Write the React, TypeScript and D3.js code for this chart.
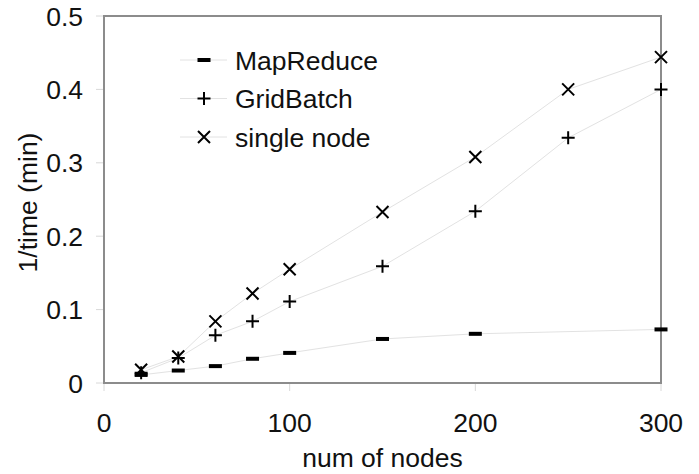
import React, { useEffect, useRef } from 'react';
import * as d3 from 'd3';

// node counts per series
const mapReduceX = [20, 40, 60, 80, 100, 150, 200, 300];
const mapReduceY = [0.011, 0.017, 0.023, 0.033, 0.041, 0.06, 0.067, 0.073];

const gridBatchX = [20, 40, 60, 80, 100, 150, 200, 250, 300];
const gridBatchY = [0.014, 0.034, 0.065, 0.084, 0.111, 0.159, 0.234, 0.334, 0.4];

const singleNodeX = [20, 40, 60, 80, 100, 150, 200, 250, 300];
const singleNodeY = [0.018, 0.036, 0.084, 0.122, 0.155, 0.233, 0.308, 0.4, 0.444];

const xTicks = [0, 100, 200, 300];
const yTicks = [0, 0.1, 0.2, 0.3, 0.4, 0.5];

const seriesNames = ['MapReduce', 'GridBatch', 'single node'];
const seriesMarkers = ['dash', 'plus', 'cross'];

export default function App() {
  const svgRef = useRef<SVGSVGElement>(null);

  useEffect(() => {
    const margin = { top: 16, right: 38, bottom: 91, left: 104 };
    const W = 699, H = 474;
    const width = W - margin.left - margin.right;
    const height = H - margin.top - margin.bottom;
    const font = 'Liberation Sans, Arial, sans-serif';
    const fs = '26.5px';

    const root = d3.select(svgRef.current);
    root.selectAll('*').remove();
    root.attr('width', W).attr('height', H);

    const svg = root.append('g').attr('transform', `translate(${margin.left},${margin.top})`);

    const x = d3.scaleLinear().domain([0, 300]).range([0, width]);
    const y = d3.scaleLinear().domain([0, 0.5]).range([height, 0]);

    // tick marks
    svg.selectAll('.ytick').data(yTicks).enter().append('line')
      .attr('x1', -8).attr('x2', 0)
      .attr('y1', d => y(d)).attr('y2', d => y(d))
      .attr('stroke', '#d8d8d8').attr('stroke-width', 1);
    svg.selectAll('.xtick').data(xTicks).enter().append('line')
      .attr('x1', d => x(d)).attr('x2', d => x(d))
      .attr('y1', height).attr('y2', height + 8)
      .attr('stroke', '#d8d8d8').attr('stroke-width', 1);

    // plot border
    svg.append('rect')
      .attr('x', 0).attr('y', 0).attr('width', width).attr('height', height)
      .attr('fill', 'none').attr('stroke', '#8c8c8c').attr('stroke-width', 2);

    // tick labels
    svg.selectAll('.ylab').data(yTicks).enter().append('text')
      .attr('x', -21).attr('y', d => y(d)).attr('dy', '0.36em')
      .attr('text-anchor', 'end')
      .style('font-family', font).style('font-size', fs).attr('fill', '#111')
      .text(d => d === 0 ? '0' : d3.format('.1f')(d));
    svg.selectAll('.xlab').data(xTicks).enter().append('text')
      .attr('x', d => x(d)).attr('y', height + 48.5)
      .attr('text-anchor', 'middle')
      .style('font-family', font).style('font-size', fs).attr('fill', '#111')
      .text(d => d);

    // axis titles
    svg.append('text')
      .attr('x', width / 2).attr('y', height + 83.5)
      .attr('text-anchor', 'middle')
      .style('font-family', font).style('font-size', fs).attr('fill', '#111')
      .text('num of nodes');
    svg.append('text')
      .attr('transform', `translate(${-67.5},${height / 2 + 3})rotate(-90)`)
      .attr('text-anchor', 'middle')
      .style('font-family', font).style('font-size', fs).attr('fill', '#111')
      .text('1/time (min)');

    const drawMarker = (g: any, kind: string, cx: number, cy: number) => {
      if (kind === 'dash') {
        g.append('rect').attr('x', cx - 6.5).attr('y', cy - 2).attr('width', 13).attr('height', 4).attr('fill', '#000');
      } else if (kind === 'plus') {
        g.append('path').attr('d', `M${cx - 6.5},${cy}H${cx + 6.5}M${cx},${cy - 6.5}V${cy + 6.5}`)
          .attr('stroke', '#000').attr('stroke-width', 2);
      } else {
        g.append('path').attr('d', `M${cx - 6},${cy - 6}L${cx + 6},${cy + 6}M${cx - 6},${cy + 6}L${cx + 6},${cy - 6}`)
          .attr('stroke', '#000').attr('stroke-width', 2);
      }
    };

    const series = [
      { xs: mapReduceX, ys: mapReduceY },
      { xs: gridBatchX, ys: gridBatchY },
      { xs: singleNodeX, ys: singleNodeY },
    ];

    const line = d3.line<[number, number]>().x(d => x(d[0])).y(d => y(d[1]));

    series.forEach(s => {
      const pts: [number, number][] = s.xs.map((v, i) => [v, s.ys[i]]);
      svg.append('path').attr('d', line(pts))
        .attr('fill', 'none').attr('stroke', '#e2e2e2').attr('stroke-width', 1);
    });
    series.forEach((s, si) => {
      const g = svg.append('g');
      s.xs.forEach((v, i) => drawMarker(g, seriesMarkers[si], x(v), y(s.ys[i])));
    });

    // legend
    const legend = root.append('g');
    seriesNames.forEach((name, i) => {
      const ly = 60 + i * 38.5;
      legend.append('line').attr('x1', 180).attr('x2', 227).attr('y1', ly).attr('y2', ly)
        .attr('stroke', '#e2e2e2').attr('stroke-width', 1);
      drawMarker(legend, seriesMarkers[i], 204, ly);
      legend.append('text').attr('x', 235).attr('y', ly).attr('dy', '0.36em')
        .style('font-family', font).style('font-size', fs).attr('fill', '#111')
        .text(name);
    });
  }, []);

  return (
    <div style={{ position: 'absolute', left: 0, top: 0 }}>
      <svg ref={svgRef}></svg>
    </div>
  );
}
